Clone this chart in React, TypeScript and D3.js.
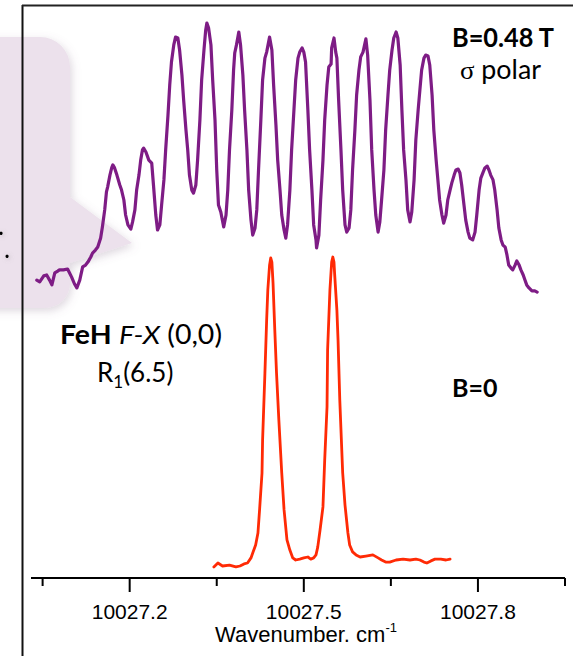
import React from 'react';
import * as d3 from 'd3';

// B = 0.48 T, sigma polarisation (purple trace)
const purpleWavenumber = [
  10027.040, 10027.045, 10027.052, 10027.057, 10027.062, 10027.066, 10027.071, 10027.076, 10027.079, 10027.086,
  10027.093, 10027.100, 10027.105, 10027.109, 10027.114, 10027.119, 10027.124, 10027.128, 10027.133, 10027.136,
  10027.141, 10027.145, 10027.150, 10027.153, 10027.157, 10027.160, 10027.162, 10027.166, 10027.169, 10027.171,
  10027.174, 10027.178, 10027.183, 10027.186, 10027.190, 10027.193, 10027.197, 10027.202, 10027.205, 10027.209,
  10027.212, 10027.216, 10027.219, 10027.222, 10027.224, 10027.228, 10027.233, 10027.238, 10027.241, 10027.245,
  10027.248, 10027.252, 10027.255, 10027.259, 10027.262, 10027.266, 10027.269, 10027.272, 10027.276, 10027.279,
  10027.283, 10027.286, 10027.290, 10027.293, 10027.297, 10027.300, 10027.303, 10027.307, 10027.310, 10027.314,
  10027.317, 10027.321, 10027.324, 10027.328, 10027.331, 10027.333, 10027.336, 10027.340, 10027.343, 10027.347,
  10027.350, 10027.353, 10027.357, 10027.362, 10027.366, 10027.369, 10027.372, 10027.376, 10027.379, 10027.381,
  10027.384, 10027.388, 10027.391, 10027.395, 10027.398, 10027.402, 10027.405, 10027.409, 10027.412, 10027.416,
  10027.419, 10027.422, 10027.426, 10027.429, 10027.433, 10027.436, 10027.441, 10027.445, 10027.448, 10027.452,
  10027.455, 10027.459, 10027.462, 10027.466, 10027.469, 10027.472, 10027.476, 10027.479, 10027.483, 10027.486,
  10027.490, 10027.493, 10027.497, 10027.500, 10027.503, 10027.507, 10027.510, 10027.514, 10027.517, 10027.521,
  10027.522, 10027.526, 10027.529, 10027.533, 10027.536, 10027.540, 10027.543, 10027.547, 10027.548, 10027.552,
  10027.555, 10027.557, 10027.560, 10027.564, 10027.567, 10027.571, 10027.574, 10027.578, 10027.581, 10027.584,
  10027.588, 10027.591, 10027.595, 10027.598, 10027.602, 10027.607, 10027.610, 10027.614, 10027.617, 10027.621,
  10027.624, 10027.628, 10027.631, 10027.634, 10027.638, 10027.641, 10027.645, 10027.648, 10027.652, 10027.655,
  10027.659, 10027.662, 10027.666, 10027.669, 10027.672, 10027.676, 10027.679, 10027.683, 10027.686, 10027.690,
  10027.693, 10027.697, 10027.700, 10027.703, 10027.707, 10027.710, 10027.714, 10027.717, 10027.721, 10027.724,
  10027.728, 10027.731, 10027.734, 10027.738, 10027.741, 10027.745, 10027.748, 10027.752, 10027.755, 10027.759,
  10027.762, 10027.766, 10027.769, 10027.772, 10027.776, 10027.779, 10027.783, 10027.786, 10027.791, 10027.795,
  10027.798, 10027.802, 10027.805, 10027.809, 10027.812, 10027.816, 10027.819, 10027.822, 10027.826, 10027.829,
  10027.833, 10027.836, 10027.840, 10027.843, 10027.847, 10027.850, 10027.853, 10027.857, 10027.860, 10027.864,
  10027.867, 10027.871, 10027.874, 10027.878, 10027.881, 10027.884, 10027.888, 10027.893, 10027.898, 10027.902,
];
const purpleIntensity = [
  93.3, 92.7, 94.7, 95.0, 93.3, 91.7, 95.7, 96.3, 96.7, 96.7,
  97.0, 94.3, 92.0, 90.7, 93.3, 97.7, 98.3, 99.3, 101.0, 102.3,
  103.3, 104.3, 107.3, 111.0, 116.7, 122.7, 124.3, 128.3, 130.7, 131.7,
  130.7, 128.3, 125.0, 123.3, 120.0, 115.0, 111.7, 110.3, 112.7, 116.7,
  123.3, 128.3, 133.3, 136.7, 137.3, 136.0, 133.3, 132.3, 125.0, 115.0,
  110.0, 111.7, 118.3, 126.7, 136.7, 148.3, 158.3, 166.0, 171.7, 174.3,
  174.0, 170.0, 161.7, 153.3, 143.3, 136.7, 128.3, 123.3, 122.3, 125.0,
  133.3, 146.7, 160.0, 170.0, 176.7, 179.0, 177.3, 171.7, 160.0, 146.7,
  130.0, 118.3, 116.0, 111.0, 115.0, 123.3, 136.7, 150.0, 163.3, 169.0,
  171.7, 176.0, 171.7, 161.7, 150.0, 136.7, 123.3, 113.3, 108.3, 110.7,
  116.7, 130.0, 146.7, 160.0, 167.3, 169.3, 174.3, 170.0, 158.3, 145.0,
  133.3, 123.3, 115.0, 110.0, 107.3, 111.7, 123.3, 136.7, 150.0, 160.0,
  167.3, 169.3, 170.7, 169.3, 166.0, 150.0, 136.7, 123.3, 111.7, 106.7,
  104.0, 108.3, 120.0, 133.3, 146.7, 158.3, 164.3, 165.3, 170.7, 174.0,
  169.3, 167.3, 153.3, 136.7, 123.3, 111.7, 109.3, 110.7, 116.7, 130.0,
  143.3, 155.0, 163.3, 167.7, 169.3, 173.7, 168.3, 153.3, 136.7, 123.3,
  115.0, 109.3, 112.7, 120.0, 130.0, 143.3, 155.0, 163.3, 170.0, 174.0,
  176.0, 174.0, 165.0, 150.0, 136.7, 126.7, 116.7, 112.7, 116.0, 126.7,
  140.0, 150.0, 156.7, 163.3, 167.3, 168.3, 168.0, 165.0, 155.0, 143.3,
  133.3, 126.7, 120.0, 115.0, 112.3, 115.0, 120.0, 123.3, 125.7, 128.3,
  130.0, 130.3, 129.0, 125.0, 118.3, 113.3, 109.3, 107.3, 106.7, 109.3,
  115.0, 123.3, 127.3, 129.3, 130.7, 131.3, 130.0, 128.3, 126.7, 123.3,
  116.7, 110.7, 106.7, 105.0, 104.3, 101.7, 98.3, 97.3, 96.7, 98.3,
  99.7, 98.3, 96.7, 95.0, 93.3, 91.7, 90.7, 89.7, 89.7, 89.3,
];

// B = 0 (red trace)
const redWavenumber = [
  10027.345, 10027.352, 10027.360, 10027.372, 10027.383, 10027.390, 10027.397, 10027.403, 10027.409, 10027.412,
  10027.417, 10027.421, 10027.424, 10027.428, 10027.429, 10027.433, 10027.436, 10027.438, 10027.441, 10027.443,
  10027.445, 10027.447, 10027.450, 10027.453, 10027.457, 10027.462, 10027.466, 10027.471, 10027.476, 10027.481,
  10027.486, 10027.493, 10027.500, 10027.507, 10027.512, 10027.517, 10027.521, 10027.524, 10027.528, 10027.533,
  10027.536, 10027.540, 10027.541, 10027.545, 10027.548, 10027.550, 10027.552, 10027.553, 10027.557, 10027.559,
  10027.562, 10027.567, 10027.571, 10027.576, 10027.579, 10027.584, 10027.590, 10027.597, 10027.607, 10027.619,
  10027.628, 10027.634, 10027.641, 10027.648, 10027.659, 10027.671, 10027.683, 10027.693, 10027.700, 10027.707,
  10027.712, 10027.719, 10027.726, 10027.736, 10027.745, 10027.752,
];
const redIntensity = [
  -2.3, -1.0, -2.0, -1.7, -2.3, -2.0, -1.3, -1.0, 0.7, 2.3,
  5.0, 9.0, 17.3, 29.0, 40.0, 62.3, 80.0, 90.0, 98.3, 100.7,
  99.3, 92.3, 76.7, 62.3, 46.7, 29.0, 16.7, 6.7, 3.3, 0.7,
  0.0, 0.3, 0.7, 1.0, 0.3, 0.7, 1.7, 4.3, 10.0, 17.7,
  33.3, 51.0, 70.0, 90.0, 99.3, 101.0, 99.3, 95.7, 83.3, 73.3,
  53.3, 29.0, 18.3, 9.0, 5.0, 2.7, 1.7, 1.0, 1.3, 1.7,
  0.7, 0.0, -0.7, -0.7, 0.0, 0.3, 0.0, 0.3, 0.0, -0.7,
  -1.0, -0.3, 0.3, 0.3, 0.0, 0.3,
];

const majorTicks = [10027.2, 10027.5, 10027.8];
const minorTicks = [10027.05, 10027.35, 10027.65, 10027.95];
const tickLabels = ['10027.2', '10027.5', '10027.8'];

const W = 573;
const H = 656;
const TEXT_FONT = "Lato, 'Open Sans', sans-serif";
const AXIS_FONT = "'Liberation Sans', Arial, sans-serif";

export default function App() {
  const x = d3.scaleLinear().domain([10027.03, 10027.95]).range([31, 565]);
  const y = d3.scaleLinear().domain([-6, 185]).range([578, 5]);
  const line = d3
    .line<[number, number]>()
    .x((d) => x(d[0]))
    .y((d) => y(d[1]));

  const purple: [number, number][] = purpleWavenumber.map((w, i) => [w, purpleIntensity[i]]);
  const red: [number, number][] = redWavenumber.map((w, i) => [w, redIntensity[i]]);

  const axisY = y(-6);

  const bubble =
    'M -30 37 L 40 37 A 30 30 0 0 1 70 67 L 70 197 L 132 243 L 70 263 L 70 283 A 25 25 0 0 1 45 308 L -30 308 Z';

  return (
    <svg
      width={W}
      height={H}
      viewBox={`0 0 ${W} ${H}`}
      style={{ position: 'absolute', left: 0, top: 0, background: '#ffffff' }}
    >
      <defs>
        <filter id="shadow" x="-20%" y="-20%" width="150%" height="150%">
          <feDropShadow dx="2" dy="3" stdDeviation="4" floodColor="#7d637f" floodOpacity="0.25" />
        </filter>
        <filter id="dotshadow" x="-100%" y="-100%" width="300%" height="300%">
          <feDropShadow dx="1" dy="1" stdDeviation="2" floodColor="#888" floodOpacity="0.5" />
        </filter>
      </defs>

      {/* callout bubble behind the chart */}
      <path d={bubble} fill="#ece1ec" filter="url(#shadow)" />
      <text x={-2} y={235} fontFamily={TEXT_FONT} fontSize={26} fill="#000" filter="url(#dotshadow)">.</text>
      <text x={4} y={258} fontFamily={TEXT_FONT} fontSize={26} fill="#000" filter="url(#dotshadow)">.</text>

      {/* frame */}
      <line x1={22.5} x2={22.5} y1={5} y2={H} stroke="#111" strokeWidth={2} />
      <line x1={22} x2={W} y1={5.5} y2={5.5} stroke="#222" strokeWidth={2} />

      {/* spectra */}
      <path d={line(purple) ?? ''} fill="none" stroke="#7e1c85" strokeWidth={3.2} strokeLinejoin="round" strokeLinecap="round" />
      <path d={line(red) ?? ''} fill="none" stroke="#ff2a05" strokeWidth={2.8} strokeLinejoin="round" strokeLinecap="round" />

      {/* x axis */}
      <line x1={x.range()[0]} x2={x.range()[1]} y1={axisY} y2={axisY} stroke="#000" strokeWidth={2} />
      {majorTicks.map((t) => (
        <line key={`M${t}`} x1={x(t)} x2={x(t)} y1={axisY} y2={axisY + 14} stroke="#000" strokeWidth={2} />
      ))}
      {minorTicks.map((t) => (
        <line key={`m${t}`} x1={x(t)} x2={x(t)} y1={axisY} y2={axisY + 8} stroke="#000" strokeWidth={2} />
      ))}
      {majorTicks.map((t, i) => (
        <text key={`L${t}`} x={x(t)} y={619} textAnchor="middle" fontFamily={AXIS_FONT} fontSize={21} fill="#000">
          {tickLabels[i]}
        </text>
      ))}
      <text x={306} y={642} textAnchor="middle" fontFamily={AXIS_FONT} fontSize={22} fill="#000">
        Wavenumber. cm<tspan dy={-10} fontSize={13}>-1</tspan>
      </text>

      {/* annotations */}
      <text x={452} y={47} fontFamily={TEXT_FONT} fontSize={26} fontWeight="bold" fill="#000" textLength={102} lengthAdjust="spacingAndGlyphs">
        B=0.48 T
      </text>
      <text x={460} y={79} fontFamily={TEXT_FONT} fontSize={26} fill="#000" textLength={81} lengthAdjust="spacingAndGlyphs">
        <tspan fontFamily="'Liberation Serif', 'DejaVu Serif', serif">σ</tspan> polar
      </text>
      <text x={60} y={344} fontFamily={TEXT_FONT} fontSize={26} fill="#000" textLength={162} lengthAdjust="spacingAndGlyphs">
        <tspan fontWeight="bold">FeH</tspan> <tspan fontStyle="italic">F-X</tspan> (0,0)
      </text>
      <text x={97} y={382} fontFamily={TEXT_FONT} fontSize={26} fill="#000">
        R<tspan dy={6} fontSize={17}>1</tspan><tspan dy={-6}>(6.5)</tspan>
      </text>
      <text x={452} y={397} fontFamily={TEXT_FONT} fontSize={25} fontWeight="bold" fill="#000">
        B=0
      </text>
    </svg>
  );
}
